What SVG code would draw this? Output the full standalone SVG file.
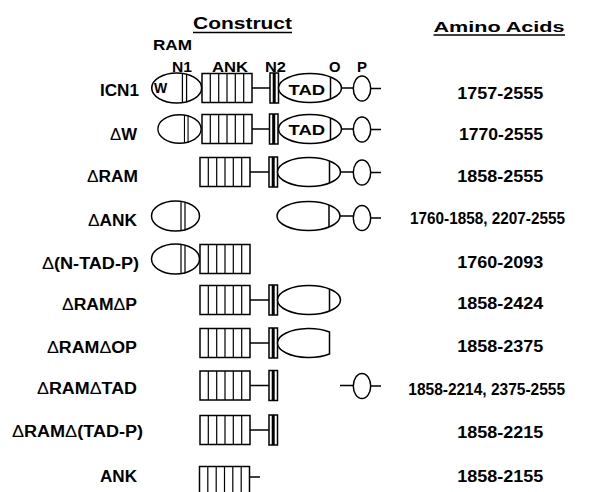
<svg xmlns="http://www.w3.org/2000/svg" xmlns:xlink="http://www.w3.org/1999/xlink" width="594" height="492" viewBox="0 0 594 492">
<style>
  .t { font-family: "Liberation Sans", Arial, sans-serif; font-weight: bold; fill: #000; }
  .lbl { font-size: 16px; text-anchor: end; }
  .aa { font-size: 16px; }
  .dom { font-size: 15px; }
  .hdr { font-size: 17px; }
  .d { font-weight: normal; }
  .s { fill: #fff; stroke: #000; stroke-width: 1.5; }
  .ln { fill: none; stroke: #000; stroke-width: 1.5; }
  .thin { fill: none; stroke: #000; stroke-width: 1.2; }
</style>
<defs>
  <g id="ankbox">
    <rect class="s" x="0" y="-14.5" width="50" height="29"/>
    <path class="thin" d="M8.3,-14.5V14.5M16.7,-14.5V14.5M25,-14.5V14.5M33.3,-14.5V14.5M41.7,-14.5V14.5"/>
  </g>
  <g id="n2box">
    <rect class="s" x="0" y="-15" width="8.5" height="30"/>
    <rect x="2.7" y="-15" width="3" height="30" fill="#000"/>
  </g>
  <g id="ramell">
    <ellipse class="s" cx="0" cy="0" rx="24" ry="15"/>
    <path class="thin" d="M5.5,-14.6V14.6M9.5,-14.2V14.2"/>
  </g>
  <g id="tadell">
    <ellipse class="s" cx="0" cy="0" rx="31.5" ry="14.5"/>
    <path class="ln" d="M20.5,-11V11"/>
  </g>
  <g id="pell">
    <ellipse class="s" cx="0" cy="0" rx="8.7" ry="12.5"/>
    <path class="ln" d="M8.7,0H19"/>
  </g>
</defs>
<rect width="594" height="492" fill="#fff"/>

<g id="headers">
  <text class="t hdr" x="193" y="29" textLength="99" lengthAdjust="spacingAndGlyphs">Construct</text>
  <line x1="193" y1="32.5" x2="292" y2="32.5" stroke="#000" stroke-width="1.5"/>
  <text class="t dom" x="433.5" y="32" textLength="131" lengthAdjust="spacingAndGlyphs">Amino Acids</text>
  <line x1="433.5" y1="35" x2="565" y2="35" stroke="#000" stroke-width="1.5"/>
</g>

<g id="domain-labels">
  <text class="t dom" x="153" y="50" textLength="39" lengthAdjust="spacingAndGlyphs">RAM</text>
  <text class="t dom" x="172" y="72" textLength="20" lengthAdjust="spacingAndGlyphs">N1</text>
  <text class="t dom" x="212" y="72" textLength="36" lengthAdjust="spacingAndGlyphs">ANK</text>
  <text class="t dom" x="265" y="72" textLength="21" lengthAdjust="spacingAndGlyphs">N2</text>
  <text class="t dom" x="329" y="72" textLength="11.5" lengthAdjust="spacingAndGlyphs">O</text>
  <text class="t dom" x="357" y="72" textLength="10" lengthAdjust="spacingAndGlyphs">P</text>
</g>

<g id="connectors">
  <path class="ln" d="M252,88H270 M341.5,88H353.3"/>
  <path class="ln" d="M252,129H269.5 M341.5,129H353.3"/>
  <path class="ln" d="M250,172H269 M340.5,172H353.3"/>
  <path class="ln" d="M340,216H353.3"/>
  <path class="ln" d="M250,300H269"/>
  <path class="ln" d="M250,343H269"/>
  <path class="ln" d="M250,385.5H269 M340,385.5H353.3"/>
  <path class="ln" d="M250,430H269"/>
  <path class="ln" d="M249,477H260"/>
</g>

<g id="row-icn1">
  <text class="t lbl" x="139" y="96" textLength="39" lengthAdjust="spacingAndGlyphs">ICN1</text>
  <g id="icn1-ram"><use xlink:href="#ramell" href="#ramell" transform="translate(176.7,88) scale(1.04,1)"/>
    <text class="t" font-size="14" x="154" y="93">W</text></g>
  <g id="icn1-ank"><use href="#ankbox" xlink:href="#ankbox" transform="translate(202,88)"/></g>
  <g id="icn1-n2"><use href="#n2box" xlink:href="#n2box" transform="translate(270,88)"/></g>
  <g id="icn1-tad"><use href="#tadell" xlink:href="#tadell" transform="translate(310,88)"/>
    <text class="t dom" x="288.5" y="94.5" textLength="36.5" lengthAdjust="spacingAndGlyphs">TAD</text></g>
  <g id="icn1-p"><use href="#pell" xlink:href="#pell" transform="translate(362,88.5)"/></g>
  <text class="t aa" x="457.3" y="99" textLength="86" lengthAdjust="spacingAndGlyphs">1757-2555</text>
</g>

<g id="row-dw">
  <text class="t lbl" x="137" y="140" textLength="27" lengthAdjust="spacingAndGlyphs"><tspan class="d">Δ</tspan>W</text>
  <g id="dw-ram"><use href="#ramell" xlink:href="#ramell" transform="translate(179.5,129) scale(0.9,0.95)"/></g>
  <g id="dw-ank"><use href="#ankbox" xlink:href="#ankbox" transform="translate(202,129)"/></g>
  <g id="dw-n2"><use href="#n2box" xlink:href="#n2box" transform="translate(269.5,129)"/></g>
  <g id="dw-tad"><use href="#tadell" xlink:href="#tadell" transform="translate(310,129)"/>
    <text class="t dom" x="288.5" y="135" textLength="36.5" lengthAdjust="spacingAndGlyphs">TAD</text></g>
  <g id="dw-p"><use href="#pell" xlink:href="#pell" transform="translate(362,129.5)"/></g>
  <text class="t aa" x="459" y="139.5" textLength="84" lengthAdjust="spacingAndGlyphs">1770-2555</text>
</g>

<g id="row-dram">
  <text class="t lbl" x="138" y="182" textLength="51" lengthAdjust="spacingAndGlyphs"><tspan class="d">Δ</tspan>RAM</text>
  <g id="dram-ank"><use href="#ankbox" xlink:href="#ankbox" transform="translate(200,172)"/></g>
  <g id="dram-n2"><use href="#n2box" xlink:href="#n2box" transform="translate(269,172)"/></g>
  <g id="dram-tad"><use href="#tadell" xlink:href="#tadell" transform="translate(309,172)"/></g>
  <g id="dram-p"><use href="#pell" xlink:href="#pell" transform="translate(362,172.5)"/></g>
  <text class="t aa" x="457.3" y="181.5" textLength="86" lengthAdjust="spacingAndGlyphs">1858-2555</text>
</g>

<g id="row-dank">
  <text class="t lbl" x="137" y="225.7" textLength="49" lengthAdjust="spacingAndGlyphs"><tspan class="d">Δ</tspan>ANK</text>
  <g id="dank-ram"><use href="#ramell" xlink:href="#ramell" transform="translate(175.5,216)"/></g>
  <g id="dank-tad"><use href="#tadell" xlink:href="#tadell" transform="translate(308.5,216)"/></g>
  <g id="dank-p"><use href="#pell" xlink:href="#pell" transform="translate(362,218)"/></g>
  <text class="t aa" x="410" y="224" textLength="155" lengthAdjust="spacingAndGlyphs">1760-1858, 2207-2555</text>
</g>

<g id="row-dntadp">
  <text class="t lbl" x="139" y="269" textLength="97" lengthAdjust="spacingAndGlyphs"><tspan class="d">Δ</tspan>(N-TAD-P)</text>
  <g id="dntadp-ram"><use href="#ramell" xlink:href="#ramell" transform="translate(175.5,259)"/></g>
  <g id="dntadp-ank"><use href="#ankbox" xlink:href="#ankbox" transform="translate(200,259)"/></g>
  <text class="t aa" x="457.3" y="268" textLength="86" lengthAdjust="spacingAndGlyphs">1760-2093</text>
</g>

<g id="row-dramdp">
  <text class="t lbl" x="137" y="310" textLength="75" lengthAdjust="spacingAndGlyphs"><tspan class="d">Δ</tspan>RAM<tspan class="d">Δ</tspan>P</text>
  <g id="dramdp-ank"><use href="#ankbox" xlink:href="#ankbox" transform="translate(200,300)"/></g>
  <g id="dramdp-n2"><use href="#n2box" xlink:href="#n2box" transform="translate(269,300)"/></g>
  <g id="dramdp-tad"><use href="#tadell" xlink:href="#tadell" transform="translate(309,300)"/></g>
  <text class="t aa" x="457.3" y="309.3" textLength="86" lengthAdjust="spacingAndGlyphs">1858-2424</text>
</g>

<g id="row-dramdop">
  <text class="t lbl" x="137" y="353" textLength="90" lengthAdjust="spacingAndGlyphs"><tspan class="d">Δ</tspan>RAM<tspan class="d">Δ</tspan>OP</text>
  <g id="dramdop-ank"><use href="#ankbox" xlink:href="#ankbox" transform="translate(200,343)"/></g>
  <g id="dramdop-n2"><use href="#n2box" xlink:href="#n2box" transform="translate(269,343)"/></g>
  <g id="dramdop-tad"><path class="s" d="M329.5,332 A31.5,14.5 0 1 0 329.5,354 Z"/></g>
  <text class="t aa" x="457.3" y="351.7" textLength="86" lengthAdjust="spacingAndGlyphs">1858-2375</text>
</g>

<g id="row-dramdtad">
  <text class="t lbl" x="137" y="393.5" textLength="100" lengthAdjust="spacingAndGlyphs"><tspan class="d">Δ</tspan>RAM<tspan class="d">Δ</tspan>TAD</text>
  <g id="dramdtad-ank"><use href="#ankbox" xlink:href="#ankbox" transform="translate(200,385.5)"/></g>
  <g id="dramdtad-n2"><use href="#n2box" xlink:href="#n2box" transform="translate(269,385.5)"/></g>
  <g id="dramdtad-p"><use href="#pell" xlink:href="#pell" transform="translate(362,386)"/></g>
  <text class="t aa" x="408.3" y="394.5" textLength="156.7" lengthAdjust="spacingAndGlyphs">1858-2214, 2375-2555</text>
</g>

<g id="row-dramdtadp">
  <text class="t lbl" x="143" y="437" textLength="131" lengthAdjust="spacingAndGlyphs"><tspan class="d">Δ</tspan>RAM<tspan class="d">Δ</tspan>(TAD-P)</text>
  <g id="dramdtadp-ank"><use href="#ankbox" xlink:href="#ankbox" transform="translate(200,430)"/></g>
  <g id="dramdtadp-n2"><use href="#n2box" xlink:href="#n2box" transform="translate(269,430)"/></g>
  <text class="t aa" x="457.3" y="438.3" textLength="86" lengthAdjust="spacingAndGlyphs">1858-2215</text>
</g>

<g id="row-ank">
  <text class="t lbl" x="137" y="482" textLength="37" lengthAdjust="spacingAndGlyphs">ANK</text>
  <g id="ank-ank"><use href="#ankbox" xlink:href="#ankbox" transform="translate(199.5,481)"/></g>
  <text class="t aa" x="457.3" y="481.7" textLength="86" lengthAdjust="spacingAndGlyphs">1858-2155</text>
</g>
</svg>
